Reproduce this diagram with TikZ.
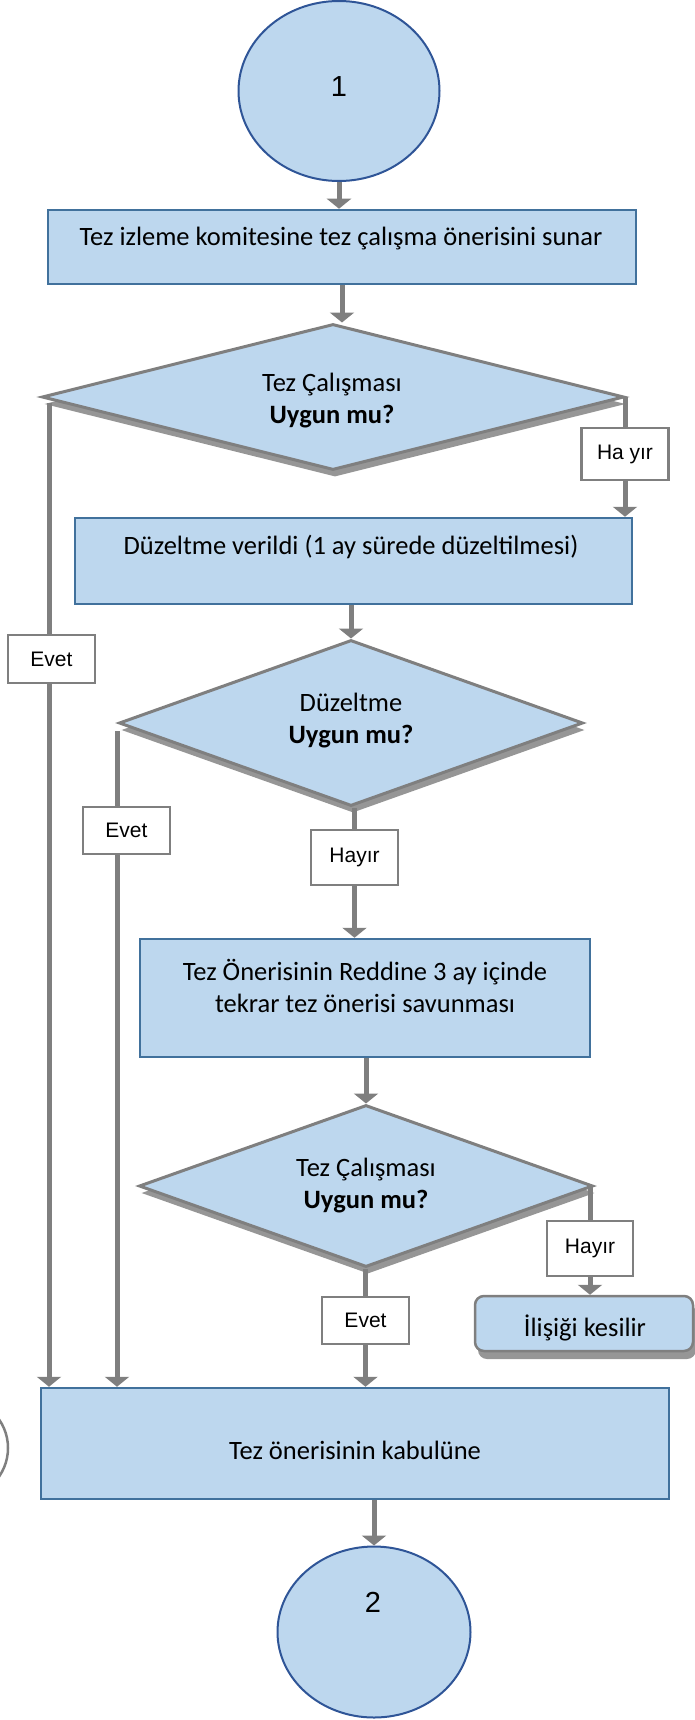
\documentclass[tikz,border=0pt]{standalone}
\usepackage{fontspec}
\setmainfont{Carlito}
\newfontfamily\arialf{Liberation Sans}
\usetikzlibrary{shapes.geometric,arrows.meta,shadows}
\definecolor{fillblue}{HTML}{BDD7EE}
\definecolor{boxblue}{HTML}{41719C}
\definecolor{circblue}{HTML}{2F5597}
\definecolor{linegray}{HTML}{7F7F7F}
\definecolor{shadegray}{HTML}{969696}
\begin{document}
\begin{tikzpicture}[x=1pt,y=-1pt,
 proc/.style={rectangle, draw=boxblue, line width=2.5pt, fill=fillblue, inner sep=0pt},
 conn/.style={ellipse, draw=circblue, line width=2pt, fill=fillblue, inner sep=0pt},
 dec/.style={diamond, draw=linegray, line width=3pt, fill=fillblue, inner sep=0pt,
   drop shadow={shadow xshift=2pt, shadow yshift=-7pt, fill=shadegray, opacity=1}},
 lab/.style={rectangle, draw=linegray, line width=2.5pt, fill=white, inner sep=0pt,
   minimum width=87pt, font=\arialf\fontsize{21}{24}\selectfont},
 txt/.style={align=center, inner sep=0pt, font=\fontsize{26.5}{32}\selectfont},
 num/.style={inner sep=0pt, font=\arialf\fontsize{29}{32}\selectfont},
 flow/.style={draw=linegray, line width=5pt},
 arr/.style={flow, -{Triangle[width=24pt,length=10pt]}},
]
\useasboundingbox (0,0) rectangle (694,1720);

% nodes
\node[conn, minimum width=201pt, minimum height=180pt] (c1) at (339,91) {};
\node[num] (t1) at (339,87) {1};

\node[proc, minimum width=588pt, minimum height=74pt] (b1) at (342,247) {};
\node[txt] (tb1) at (341,239) {Tez izleme komitesine tez çalışma önerisini sunar};

\node[dec, minimum width=582pt, minimum height=146pt] (d1) at (333,397) {};
\node[txt] (td1) at (332,401) {Tez Çalışması\\\textbf{Uygun mu?}};

\node[lab, minimum height=52pt] (h1) at (625,454) {Ha yır};

\node[proc, minimum width=557pt, minimum height=86pt] (b2) at (353.5,561) {};
\node[txt] (tb2) at (351,547) {Düzeltme verildi (1 ay sürede düzeltilmesi)};

\node[lab, minimum height=48pt] (ev1) at (51.5,659) {Evet};

\node[dec, minimum width=464pt, minimum height=166pt] (d2) at (351,723) {};
\node[txt] (td2) at (351,721) {Düzeltme\\\textbf{Uygun mu?}};

\node[lab, minimum height=47pt] (ev2) at (126.5,830.5) {Evet};
\node[lab, minimum height=55pt] (h2) at (354.5,857.5) {Hayır};

\node[proc, minimum width=450pt, minimum height=118pt] (b3) at (365,998) {};
\node[txt] (tb3) at (365,986) {Tez Önerisinin Reddine 3 ay içinde\\tekrar tez önerisi savunması};

\node[dec, minimum width=454pt, minimum height=162pt] (d3) at (366,1186) {};
\node[txt] (td3) at (366,1186) {Tez Çalışması\\\textbf{Uygun mu?}};

\node[lab, minimum width=86pt, minimum height=55pt] (h3) at (590,1248.5) {Hayır};
\node[lab, minimum height=47pt] (ev3) at (365.5,1320.5) {Evet};

\node[rectangle, rounded corners=9pt, draw=linegray, line width=2.5pt, fill=fillblue,
  minimum width=218pt, minimum height=55pt, inner sep=0pt,
  drop shadow={shadow xshift=3pt, shadow yshift=-8pt, fill=shadegray, opacity=1}] (ili) at (584,1323.5) {};
\node[txt] (tili) at (585,1328) {İlişiği kesilir};

\node[proc, minimum width=628pt, minimum height=111pt] (b4) at (355,1443.5) {};
\node[txt] (tb4) at (355,1450) {Tez önerisinin kabulüne};

\node[conn, minimum width=193pt, minimum height=171pt] (c2) at (374,1632) {};
\node[num] (t2) at (373,1602) {2};

\node[circle, draw=linegray, line width=2.5pt, minimum size=100pt, inner sep=0pt] (cx) at (-42,1448) {};

% connectors
\draw[arr] (c1.south) -- (c1.south |- b1.north);
\draw[arr] (b1.south) -- (b1.south |- d1.north);

\coordinate (e1) at (49,403);
\draw[flow] (e1) -- (e1 |- ev1.north);
\draw[arr] (e1 |- ev1.south) -- (e1 |- b4.north);

\draw[flow] (h1.north |- d1.east) -- (h1.north);
\draw[arr] (h1.south) -- (h1.south |- b2.north);

\draw[arr] (d2.north |- b2.south) -- (d2.north);

\coordinate (e2) at (117,731);
\draw[flow] (e2) -- (e2 |- ev2.north);
\draw[arr] (e2 |- ev2.south) -- (e2 |- b4.north);

\draw[flow] (h2.north |- d2.south) -- (h2.north);
\draw[arr] (h2.south) -- (h2.south |- b3.north);

\draw[arr] (d3.north |- b3.south) -- (d3.north);

\draw[flow] (h3.north |- d3.east) -- (h3.north);
\draw[arr] (h3.south) -- (h3.south |- ili.north);

\draw[flow] (ev3.north |- d3.south) -- (ev3.north);
\draw[arr] (ev3.south) -- (ev3.south |- b4.north);

\draw[arr] (b4.south -| c2.north) -- (c2.north);
\end{tikzpicture}
\end{document}
